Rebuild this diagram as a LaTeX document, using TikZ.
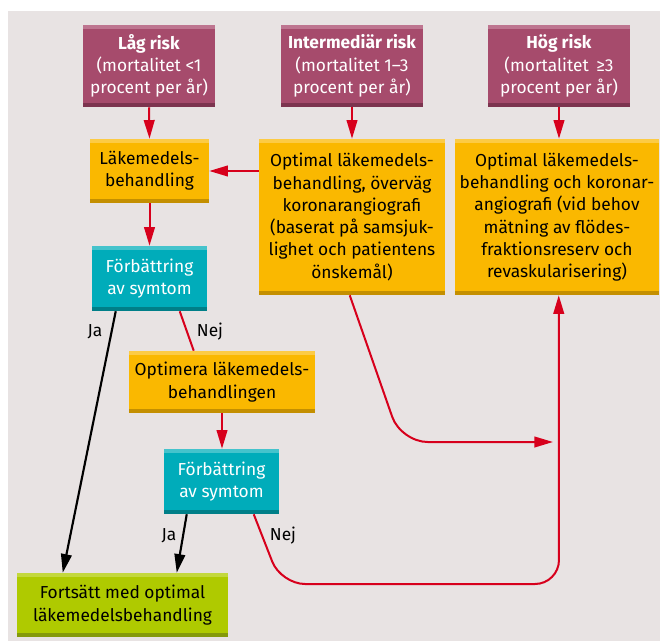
\documentclass[tikz,border=0pt]{standalone}
\usepackage{fontspec}
\setmainfont{Fira Sans}
\usepackage{tikz}
\usetikzlibrary{arrows.meta,calc}
\definecolor{panelgray}{RGB}{232,227,227}
\definecolor{riskrose}{RGB}{166,75,108}
\definecolor{riskrosetop}{RGB}{190,117,144}
\definecolor{riskrosebot}{RGB}{124,52,79}
\definecolor{medorange}{RGB}{250,184,0}
\definecolor{medorangetop}{RGB}{252,203,69}
\definecolor{medorangebot}{RGB}{196,143,0}
\definecolor{symteal}{RGB}{0,172,186}
\definecolor{symtealtop}{RGB}{69,195,204}
\definecolor{symtealbot}{RGB}{0,127,136}
\definecolor{endgreen}{RGB}{175,202,0}
\definecolor{endgreentop}{RGB}{195,216,61}
\definecolor{endgreenbot}{RGB}{132,153,10}
\definecolor{flowred}{RGB}{215,0,28}

\begin{document}
\begin{tikzpicture}[x=.75pt,y=-.75pt,box/.style={inner sep=0pt,align=center,font=\fontsize{13}{16.7}\selectfont},bands/.style 2 args={path picture={\fill[#1] (path picture bounding box.north west) rectangle ([yshift=-3pt]path picture bounding box.north east);\fill[#2] (path picture bounding box.south west) rectangle ([yshift=3pt]path picture bounding box.south east);}},risk/.style={box,fill=riskrose,text=white,bands={riskrosetop}{riskrosebot},minimum width=106.5pt,minimum height=61.5pt},med/.style={box,fill=medorange,bands={medorangetop}{medorangebot}},sym/.style={box,fill=symteal,text=white,bands={symtealtop}{symtealbot},minimum width=86.25pt,minimum height=48.75pt},fin/.style={box,fill=endgreen,bands={endgreentop}{endgreenbot}},go/.style={-{Triangle[length=14pt,width=8pt]},line width=1.5pt,draw=flowred},nogo/.style={line width=1.5pt,draw=flowred},yes/.style={-{Triangle[length=14pt,width=8pt]},line width=1.6pt,draw=black},ans/.style={font=\fontsize{13}{15}\selectfont,inner sep=0pt}]

\useasboundingbox (0,0) rectangle (660,641);
\fill[panelgray] (8,11) rectangle (660,641);

\node[risk,minimum width=99pt] (lag) at(149,66) {\textbf{Låg risk}\\(mortalitet <1\\procent per år)};
\node[risk] (inter) at(352,66) {\textbf{Intermediär risk}\\(mortalitet 1–3\\procent per år)};
\node[risk] (hog) at(559,66) {\textbf{Hög risk}\\(mortalitet \,≥3\\procent per år)};
\node[med,minimum width=89.25pt,minimum height=48pt] (lak) at(149.5,171) {Läkemedels-\\behandling};
\node[med,minimum width=139.5pt,minimum height=117pt] (opt1) at(352,217) {Optimal läkemedels-\\behandling, överväg\\koronarangiografi\\(baserat på samsjuk-\\lighet och patientens\\önskemål)};
\node[med,minimum width=153pt,minimum height=117pt] (opt2) at(557,217) {Optimal läkemedels-\\behandling och koronar-\\angiografi (vid behov\\mätning av flödes-\\fraktionsreserv och\\revaskularisering)};
\node[sym] (forb1) at(149.5,278.5) {Förbättring\\av symtom};
\node[med,minimum width=139.5pt,minimum height=46.5pt] (optim) at(222,382) {Optimera läkemedels-\\behandlingen};
\node[sym] (forb2) at(221.5,481.5) {Förbättring\\av symtom};
\node[fin,minimum width=158.25pt,minimum height=48pt] (forts) at(122.5,605) {Fortsätt med optimal\\läkemedelsbehandling};

\node[ans] (ja1) at(95,332) {Ja};
\node[ans] (nej1) at(210,332) {Nej};
\node[ans] (ja2) at(169,536) {Ja};
\node[ans] (nej2) at(283,536) {Nej};

\coordinate (bendA) at(401,442);
\coordinate (tipA) at(553,442);
\coordinate (bendB) at(281,584);
\coordinate (bendC) at(559,584);

\draw[go] (lag.south) -- (lak.north);
\draw[go] (inter.south) -- (inter.south |- opt1.north);
\draw[go] (hog.south) -- (hog.south |- opt2.north);
\draw[go] (opt1.west |- lak.east) -- (lak.east);
\draw[go] (lak.south) -- (lak.south |- forb1.north);
\draw[nogo] ($(forb1.south west)+(88,0)$) -- ($(optim.north west)+(65,0)$);
\draw[go] (optim.south) -- (optim.south |- forb2.north);
\draw[yes] ($(forb1.south west)+(24,0)$) -- ($(forts.north west)+(46,0)$);
\draw[yes] ($(forb2.south west)+(23,0)$) -- ($(forts.north west)+(160,0)$);
\draw[go,rounded corners=20pt] ($(opt1.south west)+(91,0)$) -- (bendA) -- (tipA);
\draw[go,rounded corners=18pt] ($(forb2.south west)+(90,0)$) -- (bendB) -- (bendC) -- ($(opt2.south west)+(104,0)$);
\end{tikzpicture}
\end{document}
